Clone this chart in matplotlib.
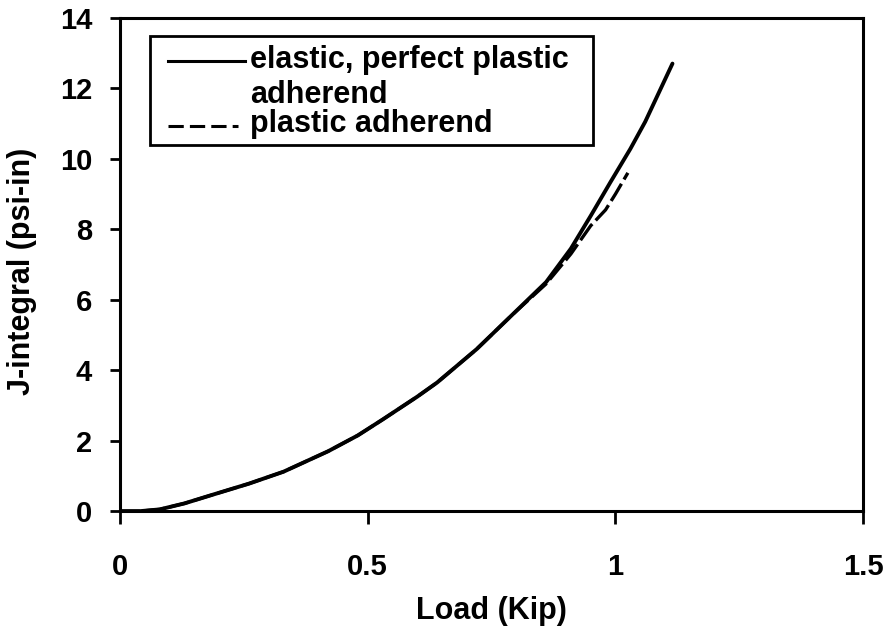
import matplotlib
matplotlib.use("Agg")
import matplotlib.pyplot as plt
from matplotlib.patches import Rectangle

# Values
load_elastic = [0, 0.04, 0.08, 0.13, 0.19, 0.26, 0.33, 0.42, 0.48, 0.53, 0.60,
                0.64, 0.72, 0.79, 0.86, 0.91, 0.95, 0.99, 1.03, 1.06, 1.115]
j_elastic = [0, 0, 0.05, 0.22, 0.48, 0.78, 1.12, 1.7, 2.15, 2.6, 3.25,
             3.65, 4.6, 5.55, 6.5, 7.45, 8.38, 9.34, 10.28, 11.05, 12.7]

load_plastic = [0, 0.04, 0.08, 0.13, 0.19, 0.26, 0.33, 0.42, 0.48, 0.53, 0.60,
                0.64, 0.72, 0.79, 0.86, 0.91, 0.95, 0.98, 1.0, 1.025]
j_plastic = [0, 0, 0.05, 0.22, 0.48, 0.78, 1.12, 1.7, 2.15, 2.6, 3.25,
             3.65, 4.6, 5.55, 6.45, 7.3, 8.1, 8.55, 9.0, 9.6]

x_ticks = [0, 0.5, 1, 1.5]
x_tick_labels = ["0", "0.5", "1", "1.5"]
y_ticks = [0, 2, 4, 6, 8, 10, 12, 14]
y_tick_labels = ["0", "2", "4", "6", "8", "10", "12", "14"]

plt.rcParams['font.family'] = ['Liberation Sans', 'DejaVu Sans']
plt.rcParams['font.weight'] = 'bold'

fig = plt.figure(figsize=(8.89, 6.35), dpi=100)
ax = fig.add_axes([0.135, 0.195, 0.836, 0.777])

ax.plot(load_elastic, j_elastic, color='black', lw=2.8,
        solid_capstyle='round', solid_joinstyle='round')
ax.plot(load_plastic, j_plastic, color='black', lw=2.4, dashes=(6, 1.5))

ax.set_xlim(0, 1.5)
ax.set_ylim(0, 14)
ax.set_xticks(x_ticks, labels=x_tick_labels, fontsize=21, fontweight='bold')
ax.set_yticks(y_ticks, labels=y_tick_labels, fontsize=21, fontweight='bold')

for s in ax.spines.values():
    s.set_linewidth(2.2)

ax.tick_params(axis='y', direction='out', length=7, width=2, pad=13)
ax.tick_params(axis='x', direction='out', length=9, width=2, pad=21)

ax.set_xlabel("Load (Kip)", fontsize=22, fontweight='bold')
ax.set_ylabel("J-integral (psi-in)", fontsize=22, fontweight='bold')
ax.xaxis.set_label_coords(0.5, -0.172)
ax.yaxis.set_label_coords(-0.112, 0.487)

# Legend drawn by hand so the wrapped label sits like the original
tr = ax.transAxes
ax.add_patch(Rectangle((0.040, 0.742), 0.597, 0.221, transform=tr,
                       facecolor='white', edgecolor='black', lw=2,
                       zorder=5))
ax.plot([0.065, 0.168], [0.912, 0.912], transform=tr, color='black',
        lw=2.2, zorder=6)
ax.plot([0.065, 0.159], [0.781, 0.781], transform=tr, color='black',
        lw=2.2, dashes=(5, 2), zorder=6)
leg_font = dict(fontsize=22, fontweight='bold', transform=tr, zorder=6,
                ha='left', va='baseline')
ax.text(0.175, 0.899, "elastic, perfect plastic", **leg_font)
ax.text(0.175, 0.828, "adherend", **leg_font)
ax.text(0.175, 0.769, "plastic adherend", **leg_font)

fig.savefig("out.png", dpi=100)
